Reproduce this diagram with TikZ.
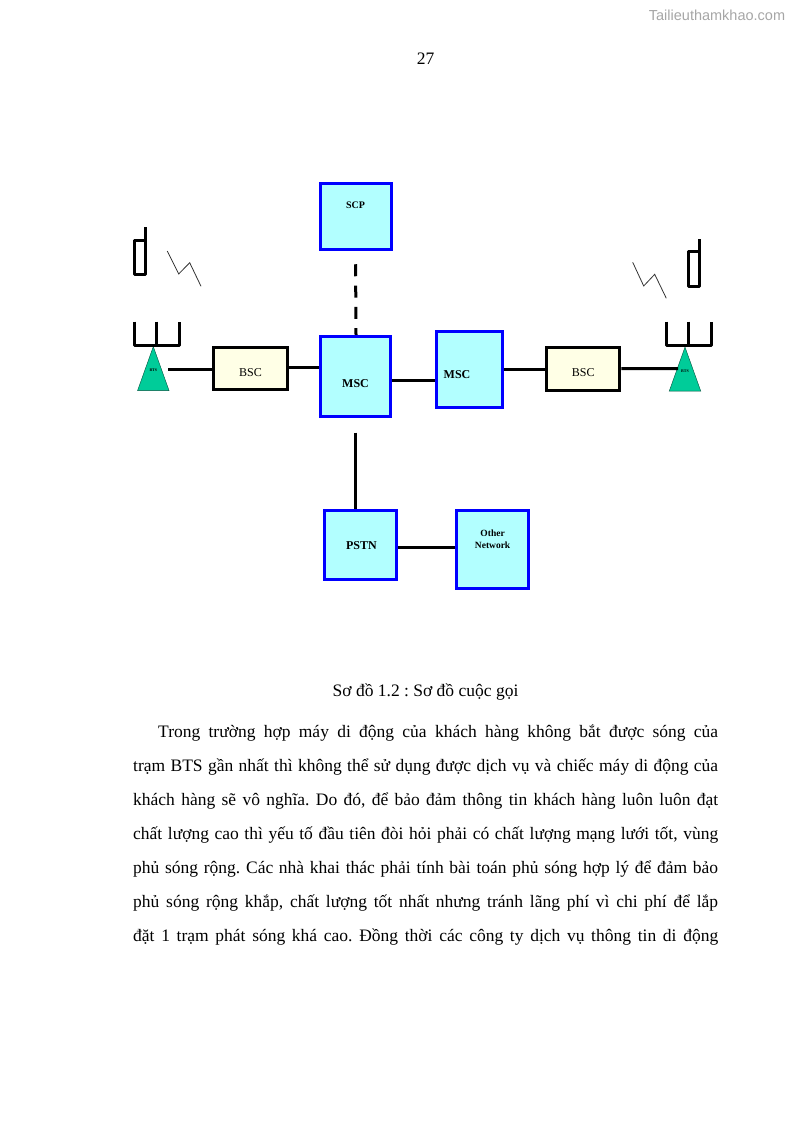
\documentclass[tikz,border=0pt]{standalone}
\usepackage{fontspec}
\setmainfont{Liberation Serif}
\newfontfamily\marksans{Liberation Sans}
\usepackage{xcolor}
\usetikzlibrary{positioning, shapes.geometric}
\definecolor{boxcyan}{HTML}{B2FFFF}
\definecolor{boxcream}{HTML}{FFFFE6}
\definecolor{btsgreen}{HTML}{00CC99}
\newcommand{\fullline}[1]{\makebox[585pt][s]{#1}}
\frenchspacing

\begin{document}
\begin{tikzpicture}[
    x=1pt, y=-1pt,
    every label/.style={font=\bfseries\fontsize{12}{13}\selectfont, align=center, inner sep=0pt},
    netbox/.style={draw=blue, fill=boxcyan, line width=3pt, minimum width=70pt, minimum height=70pt, inner sep=0pt},
    bscbox/.style={draw=black, fill=boxcream, line width=3pt, minimum width=73.4pt, minimum height=42.6pt, inner sep=0pt},
    bsctext/.style={yshift=-4.3pt, font=\fontsize{12}{13}\selectfont},
    btsnode/.style={isosceles triangle, shape border rotate=90, isosceles triangle apex angle=39.4, minimum height=44pt, inner sep=0pt, draw=black!60!btsgreen, line width=.4pt, fill=btsgreen},
    btstext/.style={yshift=9pt, font=\bfseries\fontsize{4}{5}\selectfont},
    link/.style={line width=3pt, black},
    mast/.style={line width=3pt, black, line join=round},
    bolt/.style={line width=.8pt, black!80},
    pagetext/.style={inner sep=0pt, font=\fontsize{17.5}{20}\selectfont},
    bodyline/.style={pagetext, anchor=base west}
]
\useasboundingbox (0,0) rectangle (794,1123);

\node (mark) [inner sep=0pt, text=black!35, font=\marksans\fontsize{14.5}{16}\selectfont] at (717,15) {Tailieuthamkhao.com};
\node (pageno) [pagetext] at (425.5,58.5) {27};

\node (msca) [netbox, minimum height=79.7pt, label={[yshift=-6.8pt]center:MSC}] at (355.5,376.3) {};
\node (scp) [netbox, minimum width=71pt, minimum height=66pt, above=84.3pt of msca, label={[yshift=10.5pt, font=\bfseries\fontsize{10}{11}\selectfont]center:SCP}] {};
\node (mscb) [netbox, minimum width=66pt, minimum height=76.6pt, right=42.5pt of msca, yshift=6.8pt, label={[xshift=-12pt, yshift=-4.8pt]center:MSC}] {};
\node (bsca) [bscbox, left=30.3pt of msca, yshift=7.8pt, label={[bsctext]center:BSC}] {};
\node (bscb) [bscbox, right=41.5pt of mscb, yshift=.8pt, label={[bsctext]center:BSC}] {};
\node (pstn) [netbox, minimum width=71.7pt, minimum height=68.7pt, below=91.6pt of msca, xshift=5.1pt, label={[xshift=.8pt]center:PSTN}] {};
\node (other) [netbox, minimum width=71.7pt, minimum height=77.7pt, right=57.3pt of pstn.north east, anchor=north west, label={[yshift=10.5pt, font=\bfseries\fontsize{9.5}{12}\selectfont]center:Other\\Network}] {};

\node (btsa) [btsnode, anchor=apex, label={[btstext]center:BTS}] at (153.3,346) {};
\node (btsb) [btsnode, anchor=apex, label={[btstext]center:BTS}] at (685,346.5) {};
\coordinate (linka) at (168,369);
\coordinate (linkb) at (678,368.5);

% antennas on the two stations
\draw[mast] (134,321.7) -- (134,345.3) -- (179.3,345.3) -- (179.3,321.7);
\draw[mast] (156,321.7) -- (156,345.3);
\draw[mast] (666,321.7) -- (666,345.7) -- (711,345.7) -- (711,321.7);
\draw[mast] (688.3,321.7) -- (688.3,345.7);

% hand sets
\draw[mast] (145.3,227.3) -- (145.3,274.5) -- (134.5,274.5) -- (134.5,240) -- (145.3,240);
\draw[mast] (699.3,239) -- (699.3,286) -- (688.5,286) -- (688.5,251.5) -- (699.3,251.5);
\draw[bolt] (167.3,251) -- (178.7,274) -- (189.7,262.7) -- (201,286.3);
\draw[bolt] (632.7,262.3) -- (643.7,286) -- (654.7,274.3) -- (666.3,298.3);

\draw[link] (linka) -- (linka -| bsca.west);
\draw[link] ([yshift=1.3pt]bsca.east) -- ([yshift=1.3pt]bsca.east -| msca.west);
\draw[link] ([yshift=-4pt]msca.east) -- ([yshift=-4pt]msca.east -| mscb.west);
\draw[link] (mscb.east) -- (mscb.east -| bscb.west);
\draw[link] (bscb.east) -- (linkb);
\draw[link, dash pattern=on 12pt off 9.3pt, shorten <=13.6pt] (scp.south) -- ([xshift=.5pt]msca.north);
\draw[link, shorten <=15pt] (msca.south) -- ([xshift=-5.1pt]pstn.north);
\draw[link] ([yshift=-2.2pt]pstn.east) -- ([yshift=-2.2pt]pstn.east -| other.west);

\node (caption) [pagetext] at (425.5,692) {Sơ đồ 1.2 : Sơ đồ cuộc gọi};
\node (line1) [bodyline] at (158,737) {\makebox[560pt][s]{Trong trường hợp máy di động của khách hàng không bắt được sóng của}};
\node (line2) [bodyline] at (133,771) {\fullline{trạm BTS gần nhất thì không thể sử dụng được dịch vụ và chiếc máy di động của}};
\node (line3) [bodyline] at (133,805) {\fullline{khách hàng sẽ vô nghĩa. Do đó, để bảo đảm thông tin khách hàng luôn luôn đạt}};
\node (line4) [bodyline] at (133,839) {\fullline{chất lượng cao thì yếu tố đầu tiên đòi hỏi phải có chất lượng mạng lưới tốt, vùng}};
\node (line5) [bodyline] at (133,873) {\fullline{phủ sóng rộng. Các nhà khai thác phải tính bài toán phủ sóng hợp lý để đảm bảo}};
\node (line6) [bodyline] at (133,907) {\fullline{phủ sóng rộng khắp, chất lượng tốt nhất nhưng tránh lãng phí vì chi phí để lắp}};
\node (line7) [bodyline] at (133,941) {\fullline{đặt 1 trạm phát sóng khá cao. Đồng thời các công ty dịch vụ thông tin di động}};
\end{tikzpicture}
\end{document}
